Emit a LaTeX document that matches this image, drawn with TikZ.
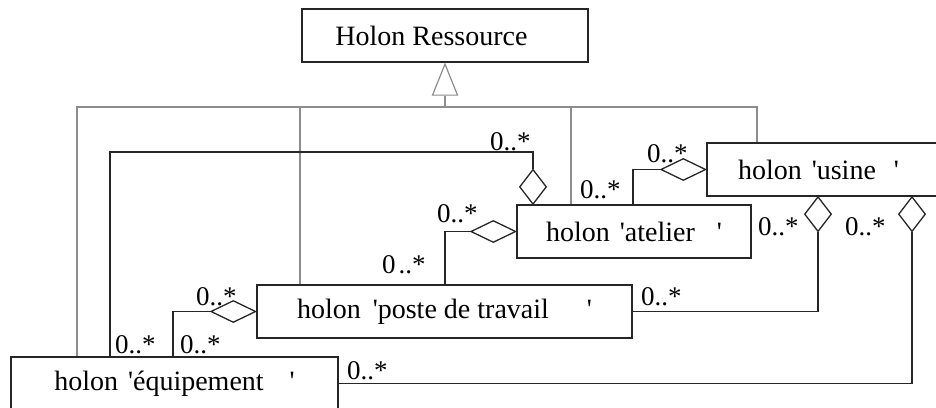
\documentclass[tikz,border=0pt]{standalone}
\usepackage{fontspec}
\setmainfont{Liberation Serif}[Ligatures=TeXOff]
\usetikzlibrary{shapes.geometric}
\definecolor{lineblack}{HTML}{262626}
\definecolor{linegray}{HTML}{8C8C8C}
\begin{document}
\begin{tikzpicture}[x=1pt,y=-1pt,
  cls/.style={draw=lineblack, line width=1.1pt, rectangle, inner sep=0pt,
    minimum height=53pt, font=\fontsize{28}{32}\selectfont},
  hdia/.style={draw=lineblack, line width=1.3pt, diamond, inner sep=0pt,
    minimum width=45pt, minimum height=22pt},
  vdia/.style={draw=lineblack, line width=1.3pt, diamond, inner sep=0pt,
    minimum width=27pt, minimum height=35pt},
  assoc/.style={draw=lineblack, line width=1.1pt},
  gen/.style={draw=linegray, line width=1.2pt},
  lab/.style={anchor=base west, inner sep=0pt, font=\fontsize{27}{30}\selectfont}]
\useasboundingbox (0,0) rectangle (936,407);

% classes
\node[cls, minimum width=286pt] (res) at (445,35.5) {Holon Ressource\kern27pt};
\node[cls, minimum width=233pt] (usine) at (823.5,169.5) {holon\kern10pt'usine\kern18pt'\kern10pt};
\node[cls, minimum width=234pt] (atelier) at (634,231.5) {holon\kern10pt'atelier\kern22pt'};
\node[cls, minimum width=375pt] (poste) at (444.5,311.5) {holon\kern12pt'poste de travail\kern38pt'};
\node[cls, minimum width=327pt] (equip) at (174.5,383.5) {holon\kern10pt'équipement\kern26pt'};

% generalisation
\node[gen, isosceles triangle, shape border rotate=90, isosceles triangle stretches,
  minimum height=31pt, minimum width=25pt, inner sep=0pt, anchor=apex] (tri) at (res.south) {};
\coordinate (g1) at (77,107);
\coordinate (g2) at (300,107);
\coordinate (g3) at (571,107);
\coordinate (g4) at (757,107);
\draw[gen] (tri.lower side) -- (tri.lower side |- g1);
\draw[gen] (equip.north -| g1) |- (g4) -- (usine.north -| g4);
\draw[gen] (g2) -- (poste.north -| g2);
\draw[gen] (g3) -- (atelier.north -| g3);

% aggregation diamonds
\node[vdia, anchor=south] (dA1) at (533,205) {};
\node[hdia, anchor=east] (dU) at (usine.west) {};
\node[hdia, anchor=east] (dA2) at (atelier.west) {};
\node[hdia, anchor=east] (dP) at (poste.west) {};
\node[vdia, anchor=north] (dU1) at (818,196) {};
\node[vdia, anchor=north] (dU2) at (912,196) {};

% associations
\coordinate (c1) at (110,152);
\coordinate (c2) at (633,0);
\coordinate (c3) at (445,0);
\coordinate (c4) at (173,0);
\draw[assoc] (dA1.north) |- (c1) -- (equip.north -| c1);
\draw[assoc] (dU.west) -| (atelier.north -| c2);
\draw[assoc] (dA2.west) -| (poste.north -| c3);
\draw[assoc] (dP.west) -| (equip.north -| c4);
\draw[assoc] (poste.east) -| (dU1.south);
\draw[assoc] (equip.east) -| (dU2.south);

% multiplicities
\node[lab] (m1) at (490,150) {0..*};
\node[lab] (m2) at (647,162) {0..*};
\node[lab] (m3) at (580,198) {0..*};
\node[lab] (m4) at (437,222) {0..*};
\node[lab] (m5) at (382,273) {0\kern3pt..*};
\node[lab] (m6) at (196,305) {0..*};
\node[lab] (m7) at (115,353) {0..*};
\node[lab] (m8) at (180,353) {0..*};
\node[lab] (m9) at (641,305) {0..*};
\node[lab] (m10) at (758,235) {0..*};
\node[lab] (m11) at (845,235) {0..*};
\node[lab] (m12) at (347,379) {0..*};
\end{tikzpicture}
\end{document}
